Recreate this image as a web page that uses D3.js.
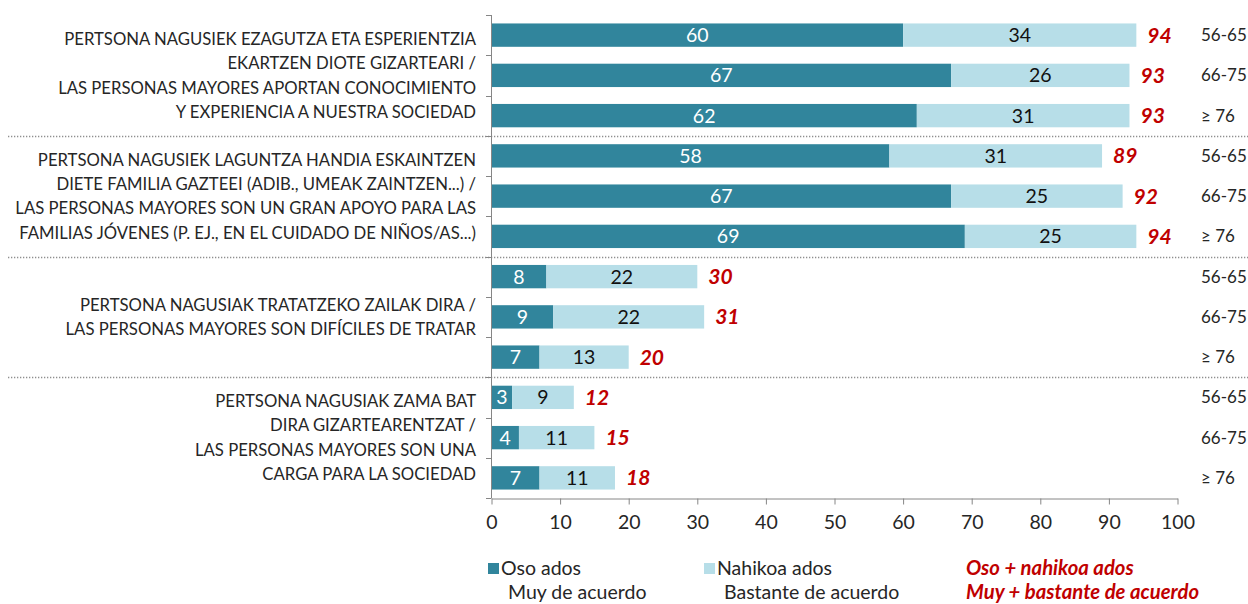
<!DOCTYPE html>
<html>
<head>
<meta charset="utf-8">
<script src="https://cdn.jsdelivr.net/npm/d3@7"></script>
<style>
  html, body { margin: 0; padding: 0; background: #fff; }
  svg { display: block; font-family: Lato, "Open Sans", sans-serif; }
</style>
</head>
<body>
<svg id="chart" width="1248" height="604"></svg>
<script>
// Age groups repeated for every statement
const ages = ["56-65", "66-75", "≥ 76"];

// Statement labels (one array of lines per statement)
const statements = [
  ["PERTSONA NAGUSIEK EZAGUTZA ETA ESPERIENTZIA", "EKARTZEN DIOTE GIZARTEARI /", "LAS PERSONAS MAYORES APORTAN CONOCIMIENTO", "Y EXPERIENCIA A NUESTRA SOCIEDAD"],
  ["PERTSONA NAGUSIEK LAGUNTZA HANDIA ESKAINTZEN", "DIETE FAMILIA GAZTEEI (ADIB., UMEAK ZAINTZEN...) /", "LAS PERSONAS MAYORES SON UN  GRAN APOYO PARA LAS", "FAMILIAS JÓVENES (P. EJ., EN EL CUIDADO DE NIÑOS/AS...)"],
  ["PERTSONA NAGUSIAK TRATATZEKO ZAILAK DIRA /", "LAS PERSONAS MAYORES SON DIFÍCILES DE TRATAR"],
  ["PERTSONA NAGUSIAK ZAMA BAT", "DIRA GIZARTEARENTZAT /", "LAS PERSONAS MAYORES SON UNA", "CARGA PARA LA SOCIEDAD"]
];

// "Oso ados / Muy de acuerdo" per row (statement x age)
const strongly = [60, 67, 62, 58, 67, 69, 8, 9, 7, 3, 4, 7];
// "Nahikoa ados / Bastante de acuerdo" per row
const quite = [34, 26, 31, 31, 25, 25, 22, 22, 13, 9, 11, 11];
// "Oso + nahikoa ados" totals per row
const totals = [94, 93, 93, 89, 92, 94, 30, 31, 20, 12, 15, 18];

const xTicks = [0, 10, 20, 30, 40, 50, 60, 70, 80, 90, 100];

const legendItems = [
  { lines: ["Oso ados", "Muy de acuerdo"], color: "#31859C" },
  { lines: ["Nahikoa ados", "Bastante de acuerdo"], color: "#B7DEE8" }
];
const totalLegend = ["Oso + nahikoa ados", "Muy + bastante de acuerdo"];

const DARK = "#31859C", LIGHT = "#B7DEE8", RED = "#C00000", TEXT = "#262626", AXIS = "#868686";

const svg = d3.select("#chart");

const rows = [];
statements.forEach((s, si) => ages.forEach((a, ai) => {
  const i = si * 3 + ai;
  rows.push({ id: i, group: si, age: a, s: strongly[i], q: quite[i], t: totals[i] });
}));

const x = d3.scaleLinear().domain([0, 100]).range([491.5, 1177.5]);
const y = d3.scaleBand().domain(rows.map(d => d.id)).range([15, 498])
  .paddingInner(0.42).paddingOuter(0.21);
const step = y.step();

// Dotted separators between statements
[3, 6, 9].forEach(k => {
  const yy = Math.round(15 + k * step) + 0.5;
  svg.append("line")
    .attr("x1", 8).attr("x2", 1248).attr("y1", yy).attr("y2", yy)
    .attr("stroke", "#8f8f8f").attr("stroke-width", 1.3)
    .attr("stroke-dasharray", "1.3,1.7");
});

// Bars
const bars = svg.append("g");
bars.selectAll("rect.s").data(rows).join("rect")
  .attr("x", x(0)).attr("y", d => y(d.id))
  .attr("width", d => x(d.s) - x(0)).attr("height", y.bandwidth())
  .attr("fill", DARK);
bars.selectAll("rect.q").data(rows).join("rect")
  .attr("x", d => x(d.s)).attr("y", d => y(d.id))
  .attr("width", d => x(d.s + d.q) - x(d.s)).attr("height", y.bandwidth())
  .attr("fill", LIGHT);

// Value labels inside segments
const mid = d => y(d.id) + y.bandwidth() / 2;
bars.selectAll("text.s").data(rows).join("text")
  .attr("x", d => (x(0) + x(d.s)) / 2).attr("y", mid).attr("dy", "0.36em")
  .attr("text-anchor", "middle").attr("fill", "#fff").attr("font-size", 19.5)
  .text(d => d.s);
bars.selectAll("text.q").data(rows).join("text")
  .attr("x", d => (x(d.s) + x(d.s + d.q)) / 2).attr("y", mid).attr("dy", "0.36em")
  .attr("text-anchor", "middle").attr("fill", "#111").attr("font-size", 19.5)
  .text(d => d.q);

// Totals
bars.selectAll("text.t").data(rows).join("text")
  .attr("x", d => x(d.t) + 11).attr("y", mid).attr("dy", "0.36em")
  .attr("fill", RED).attr("font-size", 21).attr("font-weight", "bold").attr("font-style", "italic")
  .text(d => d.t);

// Age labels at the right
svg.append("g").selectAll("text").data(rows).join("text")
  .attr("x", 1201).attr("y", mid).attr("dy", "0.36em")
  .attr("fill", TEXT).attr("font-size", 17)
  .text(d => d.age);

// Left axis: line with ticks at band boundaries
const yAxis = svg.append("g");
yAxis.append("line").attr("x1", 491.5).attr("x2", 491.5).attr("y1", 15).attr("y2", 498)
  .attr("stroke", AXIS);
d3.range(13).forEach(k => {
  const yy = Math.round(15 + k * step) + 0.5;
  yAxis.append("line").attr("x1", 486).attr("x2", 491.5).attr("y1", yy).attr("y2", yy)
    .attr("stroke", AXIS);
});

// Bottom axis
const xAxis = svg.append("g").attr("transform", "translate(0,498.5)")
  .call(d3.axisBottom(x).tickValues(xTicks).tickSize(6).tickSizeOuter(0).tickPadding(11));
xAxis.select(".domain").attr("stroke", AXIS);
xAxis.selectAll(".tick line").attr("stroke", AXIS);
xAxis.selectAll(".tick text").attr("fill", TEXT).attr("font-size", 19.5)
  .attr("font-family", "Lato, sans-serif");

// Statement labels
statements.forEach((lines, si) => {
  const first = rows[si * 3], last = rows[si * 3 + 2];
  const cy = (y(first.id) + y(last.id) + y.bandwidth()) / 2;
  const lh = 24.3;
  const top = cy - (lines.length - 1) * lh / 2;
  const t = svg.append("text").attr("text-anchor", "end").attr("fill", TEXT).attr("font-size", 16.7);
  lines.forEach((ln, li) => {
    t.append("tspan").attr("x", 476).attr("y", top + li * lh).attr("dy", "0.36em").text(ln);
  });
});

// Legend
const legend = svg.append("g");
const legX = [488, 704];
legendItems.forEach((it, i) => {
  legend.append("rect").attr("x", legX[i]).attr("y", 563).attr("width", 11).attr("height", 11)
    .attr("fill", it.color);
  legend.append("text").attr("x", legX[i] + 13).attr("y", 575).attr("fill", TEXT).attr("font-size", 19.5)
    .text(it.lines[0]);
  legend.append("text").attr("x", legX[i] + 20).attr("y", 599).attr("fill", TEXT).attr("font-size", 19.5)
    .text(it.lines[1]);
});
totalLegend.forEach((ln, i) => {
  legend.append("text").attr("x", 966).attr("y", 575 + i * 24).attr("fill", RED).attr("font-size", 20.3)
    .attr("font-weight", "bold").attr("font-style", "italic").text(ln);
});
</script>
</body>
</html>
